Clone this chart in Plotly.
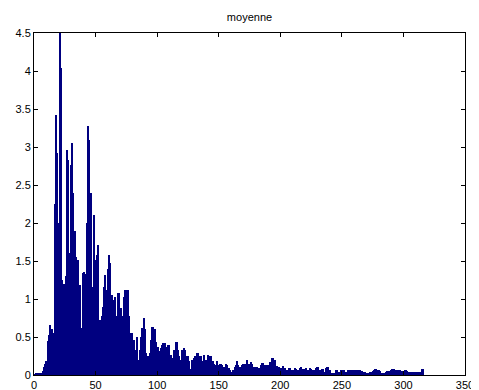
import plotly.graph_objects as go

# Bar values (index 1..316)
values = [
    0.01, 0.02, 0.02, 0.03, 0.03, 0.03, 0.05, 0.10, 0.15, 0.18,
    0.45, 0.52, 0.66, 0.42, 0.60, 0.55, 2.25, 3.42, 2.92, 2.00,
    4.50, 4.04, 1.25, 1.20, 0.30, 1.30, 2.96, 2.83, 1.60, 2.76,
    3.05, 2.39, 1.90, 1.55, 1.50, 1.51, 1.18, 0.60, 0.62, 1.34,
    1.36, 1.33, 2.00, 3.27, 3.09, 2.39, 1.16, 1.03, 2.10, 1.51,
    1.58, 1.71, 0.68, 0.72, 0.77, 0.90, 1.16, 1.31, 1.12, 1.40,
    1.58, 1.47, 1.05, 0.99, 0.77, 1.03, 0.77, 1.08, 1.08, 0.88,
    0.88, 0.77, 1.03, 1.12, 1.12, 1.12, 0.77, 0.46, 0.55, 0.55,
    0.46, 0.33, 0.33, 0.50, 0.20, 0.33, 0.50, 0.62, 0.75, 0.60,
    0.29, 0.25, 0.25, 0.29, 0.46, 0.63, 0.63, 0.60, 0.43, 0.37,
    0.37, 0.31, 0.35, 0.39, 0.42, 0.42, 0.31, 0.37, 0.39, 0.39,
    0.26, 0.20, 0.22, 0.33, 0.44, 0.43, 0.33, 0.25, 0.20, 0.33,
    0.33, 0.35, 0.33, 0.25, 0.25, 0.18, 0.08, 0.20, 0.20, 0.22,
    0.25, 0.29, 0.29, 0.20, 0.25, 0.25, 0.18, 0.26, 0.20, 0.20,
    0.26, 0.18, 0.25, 0.25, 0.18, 0.15, 0.13, 0.13, 0.18, 0.13,
    0.15, 0.15, 0.13, 0.11, 0.11, 0.15, 0.13, 0.09, 0.06, 0.04,
    0.04, 0.07, 0.10, 0.13, 0.18, 0.13, 0.11, 0.09, 0.13, 0.15,
    0.15, 0.11, 0.20, 0.13, 0.15, 0.175, 0.15, 0.09, 0.11, 0.10,
    0.10, 0.09, 0.09, 0.13, 0.16, 0.16, 0.12, 0.13, 0.13, 0.13,
    0.07, 0.175, 0.23, 0.23, 0.20, 0.20, 0.12, 0.11, 0.11, 0.04,
    0.09, 0.12, 0.09, 0.09, 0.066, 0.06, 0.09, 0.09, 0.06, 0.066,
    0.07, 0.09, 0.08, 0.06, 0.06, 0.09, 0.11, 0.08, 0.08, 0.066,
    0.09, 0.06, 0.06, 0.09, 0.08, 0.06, 0.06, 0.066, 0.09, 0.11,
    0.11, 0.06, 0.04, 0.08, 0.08, 0.04, 0.09, 0.11, 0.11, 0.06,
    0.03, 0.03, 0.02, 0.03, 0.06, 0.06, 0.02, 0.04, 0.07, 0.07,
    0.06, 0.066, 0.04, 0.04, 0.07, 0.066, 0.06, 0.06, 0.04, 0.066,
    0.066, 0.06, 0.04, 0.06, 0.06, 0.055, 0.04, 0.035, 0.035, 0.03,
    0.02, 0.03, 0.04, 0.04, 0.05, 0.06, 0.08, 0.08, 0.07, 0.07,
    0.05, 0.03, 0.03, 0.03, 0.03, 0.04, 0.05, 0.05, 0.05, 0.06,
    0.08, 0.08, 0.07, 0.06, 0.06, 0.07, 0.07, 0.05, 0.05, 0.05,
    0.07, 0.07, 0.05, 0.04, 0.04, 0.04, 0.04, 0.04, 0.04, 0.04,
    0.04, 0.04, 0.04, 0.04, 0.08, 0.08,
]
indices = list(range(1, len(values) + 1))

title_text = "moyenne"
x_ticks = [0, 50, 100, 150, 200, 250, 300, 350]
y_ticks = [0, 0.5, 1, 1.5, 2, 2.5, 3, 3.5, 4, 4.5]

# The page body adds an 8px offset; the figure is sized to fit inside it.
W, H = 471, 382

fig = go.Figure(
    go.Bar(
        x=indices,
        y=values,
        marker=dict(color="#000080", line=dict(width=0)),
        width=0.85,
    )
)

axis_common = dict(
    showline=True,
    linecolor="black",
    linewidth=1,
    mirror="ticks",
    ticks="inside",
    ticklen=4,
    tickcolor="black",
    showgrid=False,
    zeroline=False,
    automargin=False,
    tickfont=dict(family="Liberation Sans, Arial, sans-serif", size=11, color="black"),
)

fig.update_layout(
    width=W,
    height=H,
    margin=dict(l=26, r=14, t=25, b=15, autoexpand=False),
    paper_bgcolor="white",
    plot_bgcolor="white",
    bargap=0,
    showlegend=False,
    title=dict(
        text=title_text,
        x=(26 + (W - 14)) / 2 / W,
        xanchor="center",
        y=1 - 9 / H,
        yanchor="middle",
        automargin=False,
        font=dict(family="Liberation Sans, Arial, sans-serif", size=11, color="black"),
    ),
    xaxis=dict(range=[0, 350], tickvals=x_ticks, ticktext=[str(t) for t in x_ticks], **axis_common),
    yaxis=dict(range=[0, 4.5], tickvals=y_ticks, ticktext=[("%g" % t) for t in y_ticks], **axis_common),
)

fig.write_html("out.html")
